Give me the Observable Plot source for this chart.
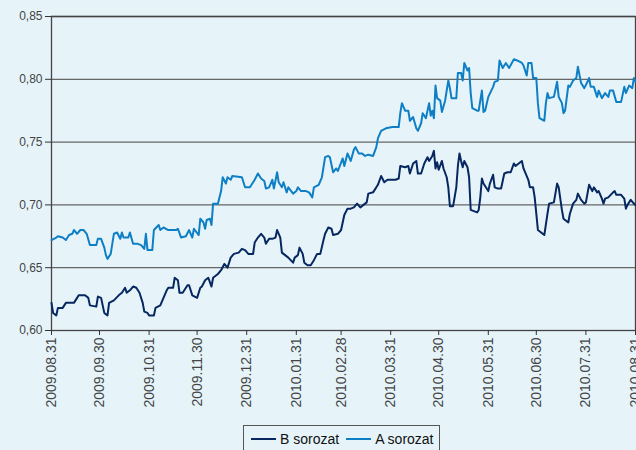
<!DOCTYPE html>
<html>
<head>
<meta charset="utf-8">
<script src="https://cdn.jsdelivr.net/npm/d3@7"></script>
<script src="https://cdn.jsdelivr.net/npm/@observablehq/plot@0.6"></script>
<style>
  html, body { margin: 0; padding: 0; background: #e6f4fa; }
  #wrap { width: 636px; height: 450px; overflow: hidden; position: relative; background: #e6f4fa; }
  #legend { position: absolute; left: 243px; top: 425px; width: 197px; height: 40px; border: 1px solid #555;
            font-family: "Liberation Sans", Arial, sans-serif; font-size: 14px; color: #111;
            display: flex; align-items: flex-start; padding-top: 5px; box-sizing: border-box; }
  .item { display: flex; align-items: center; margin-left: 7px; }
  .sw { display: inline-block; width: 25px; height: 2px; margin-right: 4px; }
</style>
</head>
<body>
<div id="wrap"><div id="chart"></div><div id="legend"></div></div>
<script>
// ---- data ----
const seriesNames = ["B sorozat", "A sorozat"];
const seriesColors = ["#06275f", "#0e7fc4"];
const tickLabels = ["2009.08.31","2009.09.30","2009.10.31","2009.11.30","2009.12.31","2010.01.31","2010.02.28","2010.03.31","2010.04.30","2010.05.31","2010.06.30","2010.07.31","2010.08.31"];
const yTicks = [0.60, 0.65, 0.70, 0.75, 0.80, 0.85];

// days since 2009.08.31 and values, series A
const daysA = [0,3,4,7,9,11,13,14,16,18,20,22,24,28,29,31,33,34,35,37,39,41,43,44,45,48,49,51,54,56,58,59,60,63,64,67,68,70,73,78,79,81,84,86,88,89,92,93,95,96,97,99,100,101,104,106,107,109,110,112,113,119,121,124,127,129,131,133,134,136,138,139,141,142,144,145,147,148,151,153,154,156,159,161,163,164,167,169,171,173,174,176,178,179,182,183,185,187,189,190,192,194,196,198,201,203,204,206,209,213,217,218,219,221,223,224,226,228,229,231,232,234,236,237,238,239,240,241,243,244,246,248,249,250,253,254,256,257,258,260,261,262,263,266,267,269,270,271,273,276,277,279,280,282,284,286,289,291,294,295,297,298,300,301,303,304,305,308,309,310,311,314,316,317,319,320,321,323,324,326,328,329,331,333,335,336,337,339,341,342,344,346,348,349,351,353,356,358,359,361,363,364,365];
const valuesA = [0.672,0.674,0.675,0.674,0.672,0.676,0.677,0.680,0.677,0.680,0.680,0.677,0.668,0.668,0.673,0.673,0.666,0.660,0.657,0.661,0.677,0.678,0.673,0.678,0.674,0.674,0.678,0.669,0.669,0.668,0.665,0.677,0.664,0.664,0.680,0.684,0.680,0.682,0.680,0.680,0.681,0.674,0.675,0.680,0.674,0.681,0.676,0.689,0.686,0.681,0.688,0.689,0.684,0.701,0.701,0.711,0.722,0.717,0.722,0.720,0.723,0.722,0.714,0.714,0.720,0.725,0.721,0.719,0.713,0.714,0.720,0.713,0.726,0.718,0.714,0.718,0.710,0.714,0.709,0.711,0.714,0.711,0.711,0.710,0.706,0.714,0.716,0.722,0.738,0.739,0.738,0.726,0.729,0.727,0.737,0.731,0.741,0.735,0.744,0.746,0.741,0.741,0.739,0.740,0.739,0.746,0.753,0.759,0.761,0.762,0.762,0.773,0.781,0.775,0.775,0.767,0.770,0.761,0.759,0.765,0.773,0.769,0.781,0.771,0.775,0.769,0.795,0.785,0.783,0.774,0.783,0.799,0.793,0.785,0.785,0.805,0.805,0.799,0.813,0.807,0.809,0.789,0.777,0.775,0.775,0.791,0.774,0.775,0.786,0.794,0.798,0.799,0.815,0.809,0.813,0.809,0.816,0.815,0.813,0.811,0.803,0.813,0.813,0.801,0.801,0.781,0.769,0.767,0.781,0.789,0.785,0.786,0.798,0.786,0.781,0.773,0.775,0.795,0.794,0.799,0.801,0.810,0.797,0.793,0.798,0.801,0.794,0.794,0.786,0.791,0.785,0.789,0.786,0.791,0.791,0.782,0.782,0.794,0.789,0.795,0.793,0.801,0.798];

// days since 2009.08.31 and values, series B
const daysB = [0,1,3,4,7,9,12,14,16,17,21,23,24,28,29,31,33,35,36,39,42,44,46,47,49,51,53,55,57,58,60,61,64,65,68,70,72,73,76,77,79,80,82,83,85,86,88,91,93,94,96,98,100,101,104,106,108,110,112,114,117,119,121,123,126,127,129,131,133,134,136,138,140,141,143,144,146,148,151,152,154,155,157,158,160,162,164,166,168,170,171,173,175,176,179,181,182,183,185,187,189,191,193,195,197,198,201,204,206,208,210,213,215,217,218,221,223,224,226,228,229,231,233,235,236,238,239,240,241,242,244,245,247,248,249,251,253,254,255,256,257,258,260,261,262,264,266,267,268,269,270,273,274,276,277,279,281,283,285,287,289,290,292,294,295,298,299,301,302,303,304,307,308,310,311,314,316,317,319,320,323,324,326,328,329,331,333,334,336,338,339,341,342,344,345,346,348,351,352,353,356,358,359,360,362,364,365];
const valuesB = [0.622,0.614,0.612,0.618,0.618,0.622,0.622,0.622,0.626,0.628,0.628,0.626,0.620,0.619,0.627,0.626,0.614,0.612,0.622,0.624,0.628,0.630,0.634,0.630,0.632,0.635,0.634,0.630,0.622,0.615,0.614,0.612,0.612,0.618,0.620,0.626,0.632,0.634,0.634,0.642,0.640,0.630,0.630,0.632,0.636,0.636,0.628,0.626,0.634,0.635,0.640,0.642,0.635,0.642,0.645,0.648,0.653,0.650,0.658,0.661,0.662,0.665,0.664,0.661,0.661,0.670,0.674,0.677,0.674,0.669,0.673,0.673,0.674,0.680,0.674,0.662,0.660,0.658,0.654,0.658,0.660,0.666,0.661,0.654,0.652,0.652,0.656,0.661,0.661,0.672,0.677,0.682,0.681,0.676,0.677,0.680,0.686,0.692,0.697,0.697,0.698,0.701,0.698,0.700,0.702,0.709,0.710,0.716,0.723,0.718,0.720,0.720,0.720,0.721,0.731,0.730,0.731,0.725,0.733,0.735,0.725,0.725,0.733,0.738,0.735,0.739,0.743,0.729,0.734,0.728,0.735,0.729,0.722,0.714,0.699,0.699,0.714,0.731,0.741,0.735,0.730,0.735,0.730,0.722,0.696,0.695,0.694,0.696,0.706,0.721,0.717,0.711,0.717,0.724,0.714,0.713,0.713,0.725,0.726,0.726,0.733,0.731,0.733,0.735,0.729,0.720,0.714,0.714,0.706,0.693,0.680,0.677,0.676,0.693,0.701,0.702,0.717,0.714,0.696,0.689,0.686,0.693,0.701,0.704,0.709,0.704,0.701,0.702,0.716,0.711,0.714,0.710,0.711,0.705,0.701,0.705,0.706,0.710,0.711,0.708,0.708,0.705,0.697,0.700,0.704,0.701,0.700];

// ---- build table ----
const parse = d3.timeParse("%Y.%m.%d");
const start = parse(tickLabels[0]);
const rows = [];
daysB.forEach((d, i) => rows.push({series: seriesNames[0], date: d3.timeDay.offset(start, d), value: valuesB[i]}));
daysA.forEach((d, i) => rows.push({series: seriesNames[1], date: d3.timeDay.offset(start, d), value: valuesA[i]}));
const tickDates = tickLabels.map(parse);
const fmtX = d3.timeFormat("%Y.%m.%d");

const chart = Plot.plot({
  width: 636,
  height: 420,
  marginLeft: 51,
  marginRight: 1,
  marginTop: 16,
  marginBottom: 90,
  style: {background: "transparent", fontFamily: "'Liberation Sans', Arial, sans-serif", color: "#333"},
  x: {type: "utc", domain: [tickDates[0], tickDates[tickDates.length - 1]]},
  y: {domain: [0.60, 0.85]},
  color: {domain: seriesNames, range: seriesColors},
  marks: [
    Plot.gridY(yTicks.slice(1), {stroke: "#666", strokeOpacity: 1, strokeWidth: 1.3}),
    Plot.frame({stroke: "#444", strokeWidth: 1.3}),
    Plot.line(rows, {x: "date", y: "value", z: "series", stroke: "series", strokeWidth: 2, curve: "linear"}),
    Plot.axisY(yTicks, {tickSize: 6, tickPadding: 3, tickFormat: d => d.toFixed(2).replace(".", ","), fontSize: 12, stroke: "#333", fill: "#444", label: null}),
    Plot.axisX(tickDates, {tickSize: 5, tickPadding: 2, tickRotate: -90, tickFormat: fmtX, fontSize: 14, stroke: "#333", fill: "#444", label: null})
  ]
});
document.getElementById("chart").appendChild(chart);

// legend
const lg = document.getElementById("legend");
seriesNames.forEach((n, i) => {
  const it = document.createElement("span");
  it.className = "item";
  const sw = document.createElement("span");
  sw.className = "sw";
  sw.style.background = seriesColors[i];
  it.appendChild(sw);
  it.appendChild(document.createTextNode(n));
  lg.appendChild(it);
});
</script>
</body>
</html>
